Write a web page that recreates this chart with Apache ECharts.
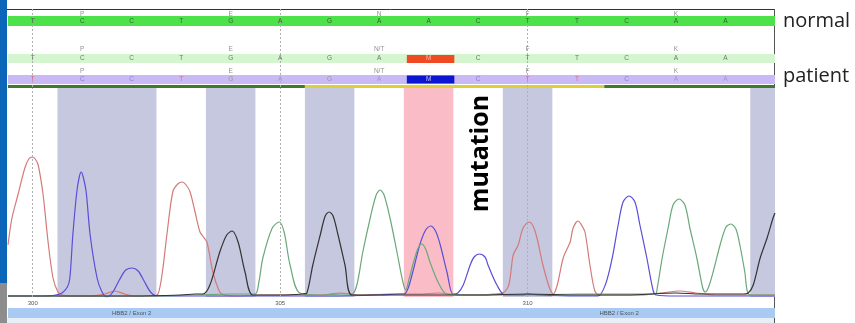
<!DOCTYPE html>
<html><head><meta charset="utf-8">
<script src="https://cdn.jsdelivr.net/npm/echarts@6/dist/echarts.min.js"></script>
<style>html,body{margin:0;padding:0;background:#fff}#c{width:855px;height:323px}</style>
</head><body><div id="c"></div>
<script>
// ---- data ----
const basePositions = [300,301,302,303,304,305,306,307,308,309,310,311,312,313,314];
const normalBases  = ['T','C','C','T','G','A','G','A','A','C','T','T','C','A','A'];
const patientBases = ['T','C','C','T','G','A','G','A','M','C','T','T','C','A','A'];
const aminoPositions = [301,304,307,310,313];
const normalAmino  = ['P','E','N','F','K'];
const patientAmino = ['P','E','N/T','F','K'];
const tickValues = [300,305,310];
const exonLabels = ['HBB2 / Exon 2','HBB2 / Exon 2'];
const exonLabelPositions = [302.0, 311.85];
const codonShades = [[300.5,302.5],[303.5,304.5],[305.5,306.5],[309.5,310.5],[314.5,315]];
const mutationShade = [307.5,308.5];
const qualitySegments = [[299.5,305.5,'high'],[305.5,311.55,'mid'],[311.55,315,'high']];
const rowNames = ['normal','patient'];
const mutationLabel = 'mutation';

// chromatogram traces [base position, signal]
const traceT = [[299.5,52],[299.58,79],[299.7,102],[299.84,129],[299.92,138],[299.99,140],[300.05,138],[300.11,132],[300.21,102],[300.31,55],[300.41,19],[300.51,5],[300.6,2],[300.8,1],[301.16,1],[301.45,3],[301.66,6],[301.85,3],[302.07,1],[302.4,1],[302.53,3],[302.62,25],[302.71,62],[302.83,105],[302.93,113],[303.02,115],[303.1,112],[303.18,105],[303.28,85],[303.38,65],[303.45,60],[303.52,55],[303.64,25],[303.75,8],[303.82,3],[304.1,1],[304.6,2],[305.2,2],[305.8,2],[306.21,4],[306.6,2],[307.2,3],[307.8,3],[308.2,4],[308.6,2],[309.0,2],[309.34,3],[309.5,4],[309.62,12],[309.71,42],[309.81,52],[309.91,69],[310.03,75],[310.11,71],[310.19,59],[310.31,32],[310.45,8],[310.52,3],[310.6,12],[310.72,39],[310.86,55],[310.92,69],[311.02,76],[311.09,72],[311.16,65],[311.26,32],[311.36,6],[311.45,2],[311.8,2],[312.3,2],[312.7,4],[313.08,6],[313.4,4],[313.8,2],[314.3,2],[315,2]];
const traceC = [[299.5,1],[300.2,1],[300.55,3],[300.7,10],[300.75,19],[300.81,62],[300.89,105],[300.94,120],[300.98,125],[301.02,120],[301.08,105],[301.16,62],[301.3,19],[301.4,5],[301.5,0],[301.62,5],[301.75,17],[301.88,27],[302.01,29],[302.13,26],[302.25,16],[302.38,5],[302.51,1],[303,1],[304,1],[305,1],[306,1],[307,2],[307.4,3],[307.5,3],[307.58,8],[307.68,25],[307.82,52],[307.94,67],[308.04,71],[308.14,66],[308.23,53],[308.37,25],[308.49,3],[308.59,4],[308.7,12],[308.84,32],[308.92,40],[309.02,43],[309.14,40],[309.2,32],[309.38,12],[309.54,2],[309.9,2],[310.0,3],[310.2,2],[311,1],[311.42,1],[311.57,12],[311.71,39],[311.83,72],[311.93,95],[312.05,101],[312.17,95],[312.27,72],[312.41,39],[312.54,6],[312.6,2],[313,1],[314,1],[315,1]];
const traceA = [[299.5,1],[300.5,1],[301.5,1],[302.5,1],[303.28,2],[304.0,3],[304.49,3],[304.57,15],[304.65,39],[304.84,69],[304.98,75],[305.08,65],[305.2,32],[305.4,4],[305.9,2],[306.21,3],[306.45,3],[306.55,12],[306.67,45],[306.82,79],[306.94,102],[307.02,107],[307.1,102],[307.22,79],[307.36,45],[307.48,15],[307.54,7],[307.6,17],[307.68,32],[307.78,48],[307.86,53],[307.94,48],[308.02,36],[308.19,15],[308.37,3],[309,2],[310,2],[311,3],[312,3],[312.58,3],[312.62,9],[312.72,39],[312.84,69],[312.94,92],[313.06,98],[313.18,92],[313.28,69],[313.42,39],[313.54,9],[313.59,5],[313.65,9],[313.75,25],[313.89,52],[314.01,70],[314.11,73],[314.21,68],[314.29,52],[314.39,25],[314.46,3],[314.6,2],[315,2]];
const traceG = [[299.5,1],[301,1],[302,1],[303,2],[303.28,3],[303.44,3],[303.58,12],[303.78,45],[303.92,62],[304.03,66],[304.15,55],[304.29,25],[304.45,2],[305,2],[305.46,3],[305.54,4],[305.66,32],[305.81,62],[305.91,81],[305.99,85],[306.07,81],[306.17,62],[306.31,32],[306.45,2],[307,2],[308,2],[309,2],[310,3],[311,2],[312,2],[313,4],[313.5,3],[314.35,3],[314.46,4],[314.56,12],[314.7,39],[314.84,59],[314.96,79],[315,84]];

// ---- styling ----
const XMIN = 299.5, XMAX = 315;
const baseColor3 = {T:'#e0507a', C:'#8a66d6', G:'#8c8c8c', A:'#9a8cd4', M:'#e8e8ff'};
const smallFont = {fontFamily:'Liberation Sans, Arial, sans-serif', fontSize:6.5};

function letterSeries(positions, letters, y, colorFn, name){
  return {
    type:'scatter', name, xAxisIndex:1, yAxisIndex:1, symbolSize:1, z:6,
    itemStyle:{color:'rgba(0,0,0,0)'}, silent:true,
    data: positions.map((p,i)=>({value:[p,y], label:{color:colorFn(letters[i])}, name:letters[i]})),
    label:{show:true, position:'inside', formatter:p=>p.name, ...smallFont}
  };
}
function trace(name, data, color){
  return {type:'line', name, xAxisIndex:0, yAxisIndex:0, data, symbol:'none', smooth:0.3, z:3,
          lineStyle:{color, width:1.2}, silent:true};
}

const chart = echarts.init(document.getElementById('c'), null, {renderer:'canvas'});
const gridL = 8, gridR = 80;
const option = {
  animation:false,
  backgroundColor:'#fff',
  grid:[
    {left:gridL, right:gridR, top:88, height:209},
    {left:gridL, right:gridR, top:9, height:79},
    {left:gridL, right:gridR, top:308, height:10}
  ],
  xAxis:[
    {type:'value', gridIndex:0, min:XMIN, max:XMAX, axisLine:{show:false}, axisTick:{show:false}, splitLine:{show:false},
     axisLabel:{customValues:tickValues, margin:3, color:'#555', fontSize:6, fontFamily:'Liberation Sans, Arial, sans-serif'}},
    {type:'value', gridIndex:1, min:XMIN, max:XMAX, show:false},
    {type:'value', gridIndex:2, min:XMIN, max:XMAX, show:false}
  ],
  yAxis:[
    {type:'value', gridIndex:0, min:0, max:209, show:false},
    {type:'value', gridIndex:1, min:0, max:79, inverse:true, show:false},
    {type:'value', gridIndex:2, min:0, max:1, show:false}
  ],
  series:[
    {type:'line', xAxisIndex:0, yAxisIndex:0, data:[[XMIN,0]], symbol:'none', lineStyle:{opacity:0}, z:1, silent:true,
     markArea:{silent:true, data:[
       ...codonShades.map(r=>[{xAxis:r[0], yAxis:0, itemStyle:{color:'#c5c8de'}},{xAxis:r[1], yAxis:209}]),
       [{xAxis:mutationShade[0], yAxis:0, itemStyle:{color:'#fabdc8'}},{xAxis:mutationShade[1], yAxis:209}]
     ]},
     markLine:{silent:true, symbol:'none', label:{show:false}, lineStyle:{color:'#b0b0b0', type:[2,2], width:1},
       data:tickValues.map(v=>({xAxis:v}))}
    },
    trace('T', traceT, '#d57a7a'),
    trace('C', traceC, '#5a4ed8'),
    trace('A', traceA, '#6aa87a'),
    trace('G', traceG, '#333333'),
    {type:'line', xAxisIndex:1, yAxisIndex:1, data:[[XMIN,0]], symbol:'none', lineStyle:{opacity:0}, z:2, silent:true,
     markLine:{silent:true, symbol:'none', label:{show:false}, lineStyle:{color:'#b0b0b0', type:[2,2], width:1},
       data:tickValues.map(v=>({xAxis:v}))},
     markArea:{silent:true, data:[
       [{xAxis:XMIN, yAxis:7, itemStyle:{color:'#4ee24a'}},{xAxis:XMAX, yAxis:17}],
       [{xAxis:XMIN, yAxis:45, itemStyle:{color:'#d5f5d1'}},{xAxis:XMAX, yAxis:54}],
       [{xAxis:XMIN, yAxis:66, itemStyle:{color:'#c9b9f4'}},{xAxis:XMAX, yAxis:75}],
       [{xAxis:307.56, yAxis:46, itemStyle:{color:'#ef4a22'}},{xAxis:308.52, yAxis:54}],
       [{xAxis:307.56, yAxis:66.5, itemStyle:{color:'#0a16d2'}},{xAxis:308.52, yAxis:74.5}],
       ...qualitySegments.map(s=>[{xAxis:s[0], yAxis:76, itemStyle:{color:s[2]==='high'?'#3d7a2e':'#dccf3c'}},{xAxis:s[1], yAxis:79}])
     ]}
    },
    letterSeries(aminoPositions, normalAmino, 5, ()=>'#777', 'aa1'),
    letterSeries(basePositions, normalBases, 12, ()=>'#2d3d2d', 'seq1'),
    letterSeries(aminoPositions, patientAmino, 40, ()=>'#777', 'aa2'),
    letterSeries(basePositions, patientBases, 49.5, b=>b==='M'?'#ffd0c8':'#555', 'seq2'),
    letterSeries(aminoPositions, patientAmino, 62, ()=>'#777', 'aa3'),
    letterSeries(basePositions, patientBases, 70.5, b=>baseColor3[b], 'seq3'),
    {type:'scatter', xAxisIndex:2, yAxisIndex:2, symbolSize:1, itemStyle:{color:'rgba(0,0,0,0)'}, z:5, silent:true,
     data: exonLabelPositions.map((p,i)=>({value:[p,0.5], name:exonLabels[i]})),
     label:{show:true, position:'inside', formatter:p=>p.name, color:'#333', fontSize:6, fontFamily:'Liberation Sans, Arial, sans-serif'},
     markArea:{silent:true, data:[[{xAxis:XMIN, yAxis:0, itemStyle:{color:'#a9cbf3'}},{xAxis:XMAX, yAxis:1}]]}
    }
  ],
  graphic:[
    {type:'rect', shape:{x:0,y:0,width:7,height:283}, style:{fill:'#0b65b8'}, silent:true},
    {type:'rect', shape:{x:0,y:283,width:7,height:40}, style:{fill:'#8d8d8d'}, silent:true},
    {type:'rect', shape:{x:7,y:318,width:767,height:5}, style:{fill:'#e8eef5'}, silent:true},
    {type:'line', shape:{x1:7,y1:9.5,x2:774,y2:9.5}, style:{stroke:'#333', lineWidth:1}, silent:true},
    {type:'line', shape:{x1:774.5,y1:9,x2:774.5,y2:323}, style:{stroke:'#555', lineWidth:1}, silent:true},
    {type:'text', x:783, y:21, style:{text:rowNames[0], fill:'#222', font:'20px "Open Sans", sans-serif', textVerticalAlign:'middle'}, silent:true},
    {type:'text', x:783, y:76, style:{text:rowNames[1], fill:'#222', font:'20px "Open Sans", sans-serif', textVerticalAlign:'middle'}, silent:true},
    {type:'text', x:481, y:153.5, rotation:Math.PI/2, z:10,
     style:{text:mutationLabel, fill:'#000', font:'bold 25px "Open Sans", sans-serif', textAlign:'center', textVerticalAlign:'middle'}, silent:true}
  ]
};
chart.setOption(option);
</script></body></html>
